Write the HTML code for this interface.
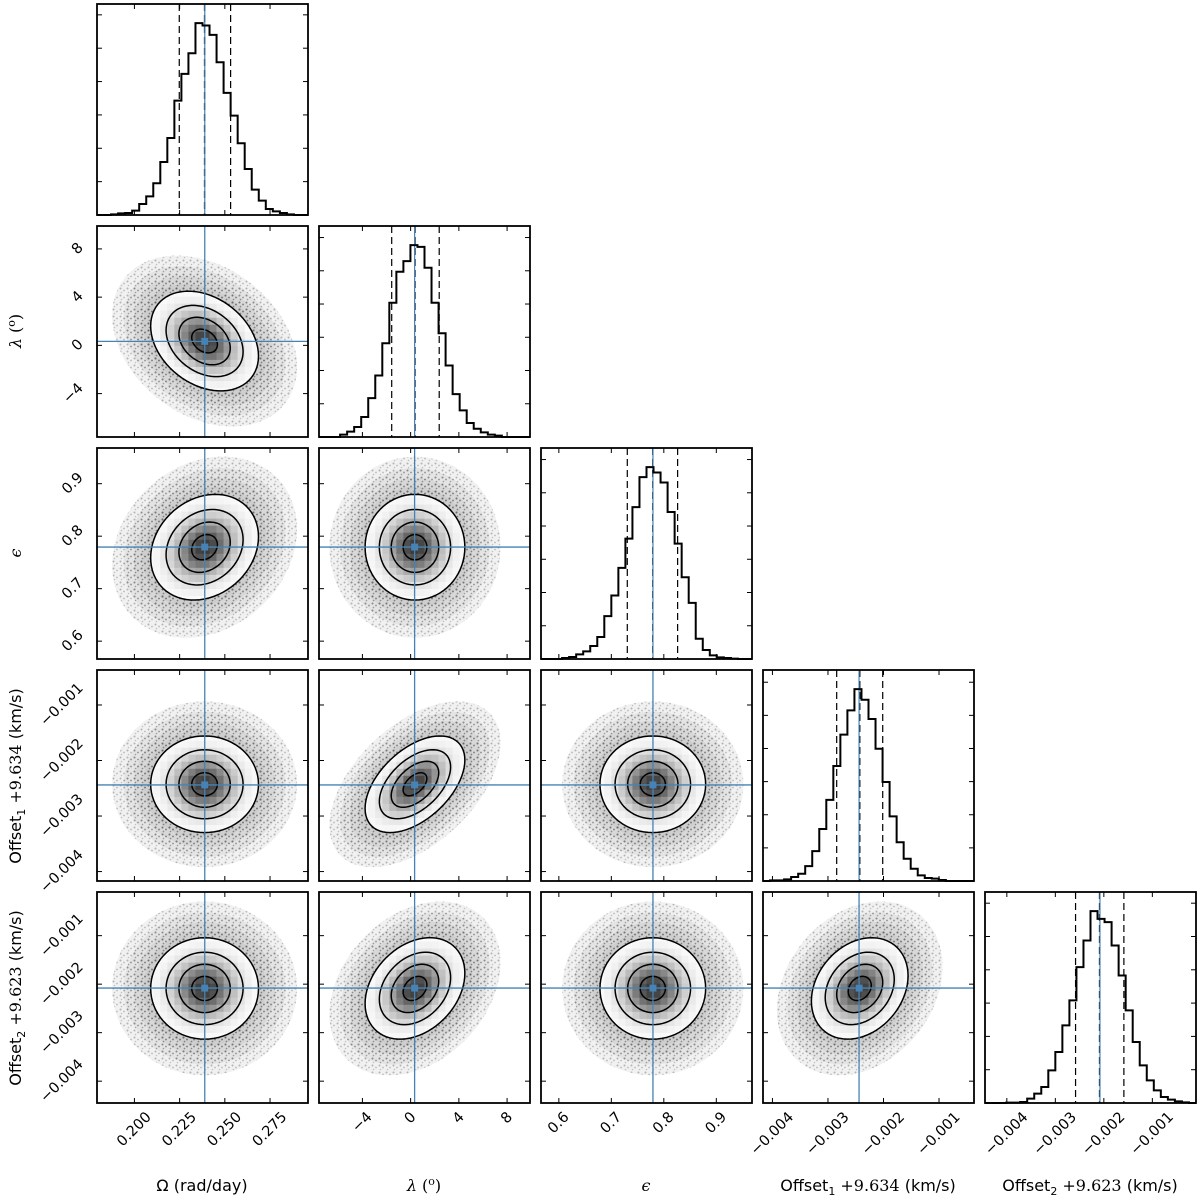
<!DOCTYPE html>
<html><head><meta charset="utf-8"><style>
html,body{margin:0;padding:0;background:#fff;}
svg{display:block;}
text{font-family:"DejaVu Sans","Liberation Sans",sans-serif;fill:#000;}
.ser{font-family:"DejaVu Serif","Liberation Serif",serif;}
</style></head><body>
<svg id="corner" width="1200" height="1196" viewBox="0 0 1200 1196" xmlns="http://www.w3.org/2000/svg">
<defs>
<pattern id="speck" width="7" height="7" patternUnits="userSpaceOnUse">
<circle cx="1.5" cy="1.5" r="1" fill="#555"/><circle cx="5" cy="3.5" r="0.9" fill="#666"/><circle cx="2.5" cy="5.5" r="0.8" fill="#777"/>
</pattern>
</defs>
<rect x="0" y="0" width="1200" height="1196" fill="#fff"/>
<g id="panels"></g>
<g id="labels" font-size="16">
<text x="202" y="1191" text-anchor="middle">Ω (rad/day)</text>
<text x="424" y="1191" text-anchor="middle"><tspan class="ser" font-style="italic">λ</tspan> <tspan class="ser">(</tspan><tspan class="ser" font-size="11" dy="-6">o</tspan><tspan class="ser" dy="6">)</tspan></text>
<text x="646" y="1191" text-anchor="middle" class="ser" font-style="italic">ϵ</text>
<text x="868" y="1191" text-anchor="middle">Offset<tspan font-size="11" dy="4">1</tspan><tspan dy="-4" class="ser"> +9.634</tspan> (km/s)</text>
<text x="1090" y="1191" text-anchor="middle">Offset<tspan font-size="11" dy="4">2</tspan><tspan dy="-4" class="ser"> +9.623</tspan> (km/s)</text>
<text x="0" y="0" text-anchor="middle" transform="translate(21,331) rotate(-90)"><tspan class="ser" font-style="italic">λ</tspan> <tspan class="ser">(</tspan><tspan class="ser" font-size="11" dy="-6">o</tspan><tspan class="ser" dy="6">)</tspan></text>
<text x="0" y="0" text-anchor="middle" class="ser" font-style="italic" transform="translate(21,553) rotate(-90)">ϵ</text>
<text x="0" y="0" text-anchor="middle" transform="translate(21,776) rotate(-90)">Offset<tspan font-size="11" dy="4">1</tspan><tspan dy="-4" class="ser"> +9.634</tspan> (km/s)</text>
<text x="0" y="0" text-anchor="middle" transform="translate(21,998) rotate(-90)">Offset<tspan font-size="11" dy="4">2</tspan><tspan dy="-4" class="ser"> +9.623</tspan> (km/s)</text>
</g>
</svg>
<script>
const axisMin=[0.1793,-7.6,0.566,-0.00417,-0.00445];
const axisMax=[0.296,9.9,0.968,-0.00037,-0.0001];
const truths=[0.2389,0.33,0.7793,-0.00244,-0.00208];
const q16=[0.2248,-1.57,0.7304,-0.002843,-0.002583];
const q50=[0.2388,0.36,0.779,-0.002428,-0.002088];
const q84=[0.2532,2.37,0.8263,-0.002014,-0.001587];
const histOmega=[0,0,2,5,6,13,33,56,95,159,231,343,423,485,575,568,540,458,366,298,215,138,76,43,18,11,6,2,0,0];
const histLambda=[0,0,0,7,16,30,60,117,185,282,404,497,529,577,572,509,404,312,215,129,80,42,25,14,7,4,0,0,0,0];
const histEpsilon=[0,0,0,3,6,14,23,39,66,129,191,274,362,457,547,577,561,531,442,347,246,169,61,27,11,5,3,1,0,0];
const histOffset1=[0,2,2,5,12,22,45,90,157,245,347,442,515,579,547,489,399,299,195,117,67,37,17,9,7,3,0,0,0,0];
const histOffset2=[0,0,0,1,1,3,13,28,48,98,153,233,308,408,488,576,553,543,473,383,278,183,113,68,38,18,10,5,2,0];
const histCounts=[histOmega,histLambda,histEpsilon,histOffset1,histOffset2];
const pairRow=[1,2,2,3,3,3,4,4,4,4];
const pairCol=[0,0,1,0,1,2,0,1,2,3];
const pairRho=[-0.3,0.2,0.0,0.0,0.5,0.0,0.0,0.3,0.0,0.25];
const ticksOmega=[0.200,0.225,0.250,0.275];
const tickLabelsOmega=['0.200','0.225','0.250','0.275'];
const ticksLambda=[-4,0,4,8];
const tickLabelsLambda=['−4','0','4','8'];
const ticksEpsilon=[0.6,0.7,0.8,0.9];
const tickLabelsEpsilon=['0.6','0.7','0.8','0.9'];
const ticksOffset=[-0.004,-0.003,-0.002,-0.001];
const tickLabelsOffset=['−0.004','−0.003','−0.002','−0.001'];
const tickVals=[ticksOmega,ticksLambda,ticksEpsilon,ticksOffset,ticksOffset];
const tickLabels=[tickLabelsOmega,tickLabelsLambda,tickLabelsEpsilon,tickLabelsOffset,tickLabelsOffset];
const histTickStep=100;

const NS='http://www.w3.org/2000/svg';
const S=211;
const BLUE='#4682b4';
function colX(i){return 97+222*i;}
function rowY(j){return 4+222*j;}
function sx(i,v){return colX(i)+(v-axisMin[i])/(axisMax[i]-axisMin[i])*S;}
function sy(j,v){return rowY(j)+S-(v-axisMin[j])/(axisMax[j]-axisMin[j])*S;}
function mk(tag,attrs,parent){const e=document.createElementNS(NS,tag);for(const k in attrs)e.setAttribute(k,attrs[k]);parent.appendChild(e);return e;}
const root=document.getElementById('panels');
const defs=document.querySelector('defs');

function ellipsePath(r,c,rho,k){
  const mx=q50[c],my=q50[r],sxx=(q84[c]-q16[c])/2,syy=(q84[r]-q16[r])/2;
  let d='';
  for(let n=0;n<=72;n++){const t=n/72*2*Math.PI;
    const x=mx+k*sxx*Math.cos(t);
    const y=my+k*syy*(rho*Math.cos(t)+Math.sqrt(1-rho*rho)*Math.sin(t));
    d+=(n?'L':'M')+sx(c,x).toFixed(2)+','+sy(r,y).toFixed(2);}
  return d+'Z';
}

function drawTicks(g,c,r,isHist){
  const x0=colX(c),y0=rowY(r);
  tickVals[c].forEach(v=>{const x=sx(c,v);
    const t1=mk('line',{x1:x,y1:y0+S,x2:x,y2:y0+S-5,stroke:'#000','stroke-width':1},g);
    
    
    const t2=mk('line',{x1:x,y1:y0,x2:x,y2:y0+5,stroke:'#000','stroke-width':1},g);
    
    
  });
  let yv=[];
  if(isHist){const mx=Math.max(...histCounts[c]);const top=1.1*mx;
    for(let v=histTickStep;v<top;v+=histTickStep)yv.push(y0+S-v/top*S);}
  else{yv=tickVals[r].map(v=>sy(r,v));}
  yv.forEach(y=>{
    const t1=mk('line',{x1:x0,y1:y,x2:x0+5,y2:y,stroke:'#000','stroke-width':1},g);
    
    
    const t2=mk('line',{x1:x0+S,y1:y,x2:x0+S-5,y2:y,stroke:'#000','stroke-width':1},g);
    
    
  });
}
function drawFrame(g,c,r){
  const f=mk('rect',{x:colX(c),y:rowY(r),width:S,height:S,fill:'none',stroke:'#000','stroke-width':1.8},g);
  
  
}

// histograms
for(let i=0;i<5;i++){
  const g=mk('g',{},root);
  
  
  const counts=histCounts[i];const mx=Math.max(...counts);const top=1.1*mx;
  const n=counts.length;const bw=(axisMax[i]-axisMin[i])/n;
  const base=rowY(i)+S;
  let d='';
  counts.forEach((cnt,b)=>{const xa=sx(i,axisMin[i]+b*bw),xb=sx(i,axisMin[i]+(b+1)*bw);const y=base-cnt/top*S;
    d+=(b?'L':'M')+xa.toFixed(2)+','+y.toFixed(2)+'L'+xb.toFixed(2)+','+y.toFixed(2);});
  [q16[i],q84[i]].forEach(q=>{const x=sx(i,q);
    const l=mk('line',{x1:x,y1:rowY(i),x2:x,y2:base,stroke:'#000','stroke-width':1.2,'stroke-dasharray':'7,4'},g);
    
    });
  const xm=sx(i,q50[i]);
  const lm=mk('line',{x1:xm,y1:rowY(i),x2:xm,y2:base,stroke:'#000','stroke-width':1.4,'stroke-dasharray':'7,4'},g);
  
  
  const xt=sx(i,truths[i]);
  const tl=mk('line',{x1:xt,y1:rowY(i),x2:xt,y2:base,stroke:BLUE,'stroke-width':1.2},g);
  
  
  const p=mk('path',{d:d,fill:'none',stroke:'#000','stroke-width':2},g);
  
  
  drawTicks(g,i,i,true);
  drawFrame(g,i,i);
}

// 2D panels
pairRow.forEach((r,idx)=>{
  const c=pairCol[idx],rho=pairRho[idx];
  const g=mk('g',{},root);
  
  
  const cp=mk('clipPath',{id:'pc'+idx},defs);
  mk('rect',{x:colX(c),y:rowY(r),width:S,height:S},cp);
  const ce=mk('clipPath',{id:'ec'+idx},defs);
  mk('path',{d:ellipsePath(r,c,rho,2.1)},ce);
  const inner=mk('g',{'clip-path':'url(#pc'+idx+')'},g);
  [3.6,3.15,2.75,2.4].forEach((k,li)=>{
    const e=mk('path',{d:ellipsePath(r,c,rho,k),fill:'url(#speck)','fill-opacity':0.4},inner);
    
    
    const e2=mk('path',{d:ellipsePath(r,c,rho,k),fill:'#777','fill-opacity':0.1},inner);
    
    
  });
  const wf=mk('path',{d:ellipsePath(r,c,rho,2.1),fill:'#fafafa'},inner);
  
  
  const blocks=mk('g',{'clip-path':'url(#ec'+idx+')'},inner);
  
  
  const sxx=(q84[c]-q16[c])/2,syy=(q84[r]-q16[r])/2;
  const N=30;const bx=(axisMax[c]-axisMin[c])/N,by=(axisMax[r]-axisMin[r])/N;
  for(let a=0;a<N;a++)for(let b=0;b<N;b++){
    const xc=axisMin[c]+(a+0.5)*bx,yc=axisMin[r]+(b+0.5)*by;
    const u=(xc-q50[c])/sxx,v=(yc-q50[r])/syy;
    const d2=(u*u-2*rho*u*v+v*v)/(1-rho*rho);
    if(d2>4.6)continue;
    const gv=Math.round(255*(1-0.78*Math.exp(-d2/1.2)));
    const x1=sx(c,axisMin[c]+a*bx),x2=sx(c,axisMin[c]+(a+1)*bx),y1=sy(r,axisMin[r]+(b+1)*by),y2=sy(r,axisMin[r]+b*by);
    const bl=mk('rect',{x:x1.toFixed(2),y:y1.toFixed(2),width:(x2-x1+0.3).toFixed(2),height:(y2-y1+0.3).toFixed(2),fill:'rgb('+gv+','+gv+','+gv+')'},blocks);
    
    
  }
  [0.5,1,1.5,2.1].forEach(k=>{
    const e=mk('path',{d:ellipsePath(r,c,rho,k),fill:'none',stroke:'#000','stroke-width':1.5},inner);
    
    
  });
  const xt=sx(c,truths[c]),yt=sy(r,truths[r]);
  const vl=mk('line',{x1:xt,y1:rowY(r),x2:xt,y2:rowY(r)+S,stroke:BLUE,'stroke-width':1.3},inner);
  
  
  const hl=mk('line',{x1:colX(c),y1:yt,x2:colX(c)+S,y2:yt,stroke:BLUE,'stroke-width':1.3},inner);
  
  
  const mkq=mk('rect',{x:xt-3.5,y:yt-3.5,width:7,height:7,fill:BLUE},inner);
  
  
  drawTicks(g,c,r,false);
  drawFrame(g,c,r);
});

// tick labels
const tg=mk('g',{'font-size':14.5},root);


function rotLabel(str,place){
  const t=mk('text',{'text-anchor':'middle','dominant-baseline':'central',x:0,y:0},tg);
  t.textContent=str;
  
  
  let L=str.length*8.5;try{L=t.getComputedTextLength();}catch(e){}
  const bw=(L+14)*0.7071;
  const p=place(bw);
  t.setAttribute('x',p[0].toFixed(2));t.setAttribute('y',p[1].toFixed(2));
  t.setAttribute('transform','rotate(-45 '+p[0].toFixed(2)+' '+p[1].toFixed(2)+')');
}
for(let c=0;c<5;c++){
  tickVals[c].forEach((v,k)=>{const x=sx(c,v);const yb=rowY(4)+S;
    rotLabel(tickLabels[c][k],bw=>[x,yb+7+bw/2]);});
}
for(let r=1;r<5;r++){
  tickVals[r].forEach((v,k)=>{const y=sy(r,v);
    rotLabel(tickLabels[r][k],bw=>[colX(0)-11-bw/2,y]);});
}
</script>
</body></html>
